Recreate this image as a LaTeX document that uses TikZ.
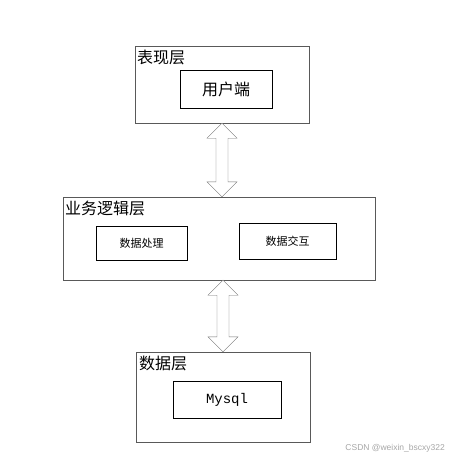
\documentclass[tikz,border=0pt]{standalone}
\usepackage{fontspec}
\newfontfamily\cjk{Noto Sans CJK SC}
\newfontfamily\mono{Liberation Mono}
\newfontfamily\wmfont{Liberation Sans}
\usetikzlibrary{calc}

\begin{document}
\begin{tikzpicture}[x=1pt,y=-1pt,
	layer/.style={draw=black!65,fill=white,inner sep=0pt},
	part/.style={draw=black,inner sep=0pt},
	title/.style={anchor=north west,inner sep=0pt,font=\cjk\fontsize{16}{16}\selectfont},
	bigarrow/.style={draw=black!55,fill=white,line join=miter}]
			\useasboundingbox (0,0) rectangle (450,460);
			
			% three layers
			\node[layer,minimum width=174pt,minimum height=77pt] (top) at (222,84.5) {};
			\node[layer,minimum width=312pt,minimum height=83pt] (mid) at (219,238.5) {};
			\node[layer,minimum width=174pt,minimum height=90pt] (bot) at (223,397) {};
			
			\node[title] (ttop) at ($(top.north west)+(2,4)$) {表现层};
			\node[title] (tmid) at ($(mid.north west)+(2,4)$) {业务逻辑层};
			\node[title] (tbot) at ($(bot.north west)+(3,4)$) {数据层};
			
			% parts inside the layers
			\node[part,minimum width=92pt,minimum height=38pt,font=\cjk\fontsize{16}{16}\selectfont] (usr) at (226,89) {用户端};
			\node[part,minimum width=91pt,minimum height=34pt,font=\cjk\fontsize{11}{11}\selectfont] (proc) at (141.5,243) {数据处理};
			\node[part,minimum width=97pt,minimum height=36pt,font=\cjk\fontsize{11}{11}\selectfont] (inter) at (287.5,241) {数据交互};
			\node[part,minimum width=108pt,minimum height=37pt,font=\mono\fontsize{14}{14}\selectfont] (db) at (227,399.5) {Mysql};
			
			% double arrows between the layers
			\coordinate (a1s) at (top.south);
			\coordinate (a1e) at (top.south |- mid.north);
			\coordinate (a2s) at (bot.north |- mid.south);
			\coordinate (a2e) at (bot.north);
			\foreach \s/\e in {a1s/a1e,a2s/a2e}
			{
				\draw[bigarrow] (\s) -- ($(\s)+(15,15)$) -- ($(\s)+(6,15)$) -- ($(\e)+(6,-15)$) -- ($(\e)+(15,-15)$) -- (\e)
					-- ($(\e)+(-15,-15)$) -- ($(\e)+(-6,-15)$) -- ($(\s)+(-6,15)$) -- ($(\s)+(-15,15)$) -- cycle;
			}
			
			\node[anchor=east,inner sep=0pt,text=black!35,font=\wmfont\fontsize{8.5}{8.5}\selectfont] (wm) at (445,448) {CSDN @weixin\_bscxy322};
\end{tikzpicture}
\end{document}
